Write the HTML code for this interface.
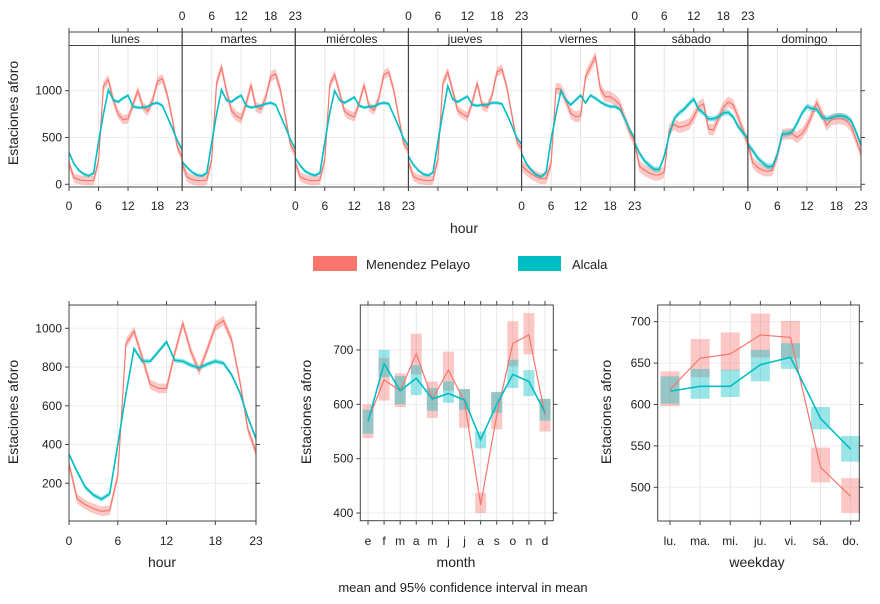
<!DOCTYPE html>
<html><head><meta charset="utf-8"><style>
body{margin:0;background:#fff;}
svg{display:block;font-family:"Liberation Sans",Arial,sans-serif;}
</style></head><body>
<svg id="c" width="880" height="604" viewBox="0 0 880 604"></svg>
<script>
const RED="#F8766D", BLUE="#00BFC4";
const days=["lunes","martes","miércoles","jueves","viernes","sábado","domingo"];
const redLunes=[225,70,50,40,40,40,250,1050,1120,900,750,690,700,850,1000,830,780,900,1100,1130,950,700,400,290];
const blueLunes=[340,220,150,110,90,120,450,750,1010,900,880,920,950,830,820,820,830,860,870,840,720,600,470,370];
const redMartes=[220,80,50,40,40,45,260,1080,1250,1000,790,730,700,860,1060,830,800,930,1150,1180,1000,720,430,330];
const blueMartes=[240,180,130,100,90,120,440,750,1010,900,880,920,950,840,820,830,840,860,870,850,730,610,480,380];
const redMiercoles=[230,80,55,40,40,45,260,1060,1170,980,780,740,720,870,1060,830,790,920,1170,1200,1010,730,440,360];
const blueMiercoles=[280,200,140,110,95,120,450,760,1000,900,870,900,930,840,820,830,830,860,870,860,740,620,490,410];
const redJueves=[240,85,55,45,40,45,270,1080,1200,1000,790,750,720,880,1080,840,820,950,1200,1230,1040,750,460,380];
const blueJueves=[300,210,150,110,95,125,460,760,1050,910,880,910,940,850,840,850,850,870,870,860,750,630,500,430];
const redViernes=[200,150,110,80,60,60,220,1025,1015,900,758,722,730,1150,1256,1363,1025,935,935,900,850,700,560,450];
const blueViernes=[330,220,150,100,80,130,480,750,1000,900,850,900,950,870,950,920,880,850,830,830,800,700,580,490];
const redSabado=[440,190,150,120,100,100,130,580,640,610,620,640,720,830,860,590,580,700,820,880,850,720,580,430];
const blueSabado=[440,330,250,200,160,160,300,520,700,760,800,860,910,800,760,700,700,720,760,770,720,620,550,490];
const redDomingo=[440,230,180,150,140,150,310,530,540,540,500,540,620,740,870,760,630,690,700,700,680,620,480,330];
const blueDomingo=[430,360,280,230,190,190,320,540,540,560,650,760,830,810,800,720,700,710,730,730,720,680,560,420];
const ciRedDay=[50,55,50,50,60,60,60];
const ciBlueDay=[18,18,18,18,20,30,32];
const hourRed=[300,120,90,70,55,60,240,920,985,850,710,690,690,870,1025,880,780,890,1010,1040,940,730,480,360];
const hourBlue=[350,260,180,140,118,145,400,660,895,830,830,880,930,835,830,810,795,815,830,820,760,670,540,430];
const monthLabels=["e","f","m","a","m","j","j","a","s","o","n","d"];
const monthRed=[570,645,625,693,610,663,605,415,580,712,728,580];
const monthRedLo=[538,607,595,655,575,625,557,400,554,670,692,550];
const monthRedHi=[600,685,657,730,642,697,628,437,622,753,768,610];
const monthBlue=[568,675,625,648,610,620,608,535,600,655,642,585];
const monthBlueLo=[546,650,600,617,588,603,590,519,584,630,615,570];
const monthBlueHi=[590,700,652,672,630,642,628,550,623,682,663,610];
const wdLabels=["lu.","ma.","mi.","ju.","vi.","sá.","do."];
const wdRed=[618,656,661,684,681,524,489];
const wdRedLo=[598,633,641,657,656,506,469];
const wdRedHi=[640,679,687,710,701,548,511];
const wdBlue=[616,622,622,648,657,583,546];
const wdBlueLo=[601,607,609,628,643,570,531];
const wdBlueHi=[634,643,642,666,674,597,562];

const redDays=[redLunes,redMartes,redMiercoles,redJueves,redViernes,redSabado,redDomingo];
const blueDays=[blueLunes,blueMartes,blueMiercoles,blueJueves,blueViernes,blueSabado,blueDomingo];
const svg=document.getElementById('c');
const NS="http://www.w3.org/2000/svg";
function mk(tag,attrs,parent,text){const e=document.createElementNS(NS,tag);for(const k in attrs)e.setAttribute(k,attrs[k]);if(text!==undefined)e.textContent=text;(parent||svg).appendChild(e);return e;}
function line(x1,y1,x2,y2,col,w,p){return mk('line',{x1,y1,x2,y2,stroke:col,'stroke-width':w},p);}
function txt(x,y,s,size,anchor,p,rot){const a={x,y,'font-size':size,'text-anchor':anchor||'middle',fill:'#222'};if(rot)a.transform=`rotate(-90 ${x} ${y})`;return mk('text',a,p,s);}
function band(xs,lo,hi,col,op,p){let d='';xs.forEach((x,i)=>d+=(i?'L':'M')+x+','+hi[i]);for(let i=xs.length-1;i>=0;i--)d+='L'+xs[i]+','+lo[i];d+='Z';return mk('path',{d,fill:col,'fill-opacity':op,stroke:'none'},p);}
function poly(xs,ys,col,w,p){return mk('polyline',{points:xs.map((x,i)=>x+','+ys[i]).join(' '),fill:'none',stroke:col,'stroke-width':w},p);}

const TX0=69,TX1=861,TY0=45.5,TY1=187,SY0=32;
const pw=(TX1-TX0)/7;
const ty=v=>184.3-v*0.0936;
const hours=[...Array(24).keys()];
const topG=mk('g',{});


days.forEach((d,di)=>{
  const x0=TX0+di*pw, x1=x0+pw;
  const tx=h=>x0+h*(x1-x0)/23;
  const g=mk('g',{},topG);
  
  
  [6,12,18].forEach(h=>line(tx(h),TY0,tx(h),TY1,'#e6e6e6',1,g));
  [0,500,1000].forEach(v=>line(x0,ty(v),x1,ty(v),'#eeeeee',1,g));
  const xs=hours.map(tx);
  const r=redDays[di], b=blueDays[di];
  band(xs,r.map(v=>ty(v-ciRedDay[di])),r.map(v=>ty(v+ciRedDay[di])),RED,0.4,g);
  band(xs,b.map(v=>ty(v-ciBlueDay[di])),b.map(v=>ty(v+ciBlueDay[di])),BLUE,0.4,g);
  poly(xs,r.map(ty),RED,1.2,g);
  poly(xs,b.map(ty),BLUE,1.6,g);
  mk('rect',{x:x0,y:SY0,width:pw,height:TY0-SY0,fill:'#fff',stroke:'#444','stroke-width':1},g);
  const st=txt((x0+x1)/2,43,d,12,'middle',g);
  
  
  [0,6,12,18,23].forEach(h=>{line(tx(h),TY1,tx(h),TY1+4,'#444',1,g);line(tx(h),SY0,tx(h),SY0-4,'#444',1,g);});
  if(di%2==1){[0,6,12,18,23].forEach(h=>txt(tx(h),20,String(h),12,'middle',g));}
  else{[0,6,12,18,23].forEach(h=>txt(tx(h),210,String(h),12,'middle',g));}
});
mk('rect',{x:TX0,y:SY0,width:TX1-TX0,height:TY1-SY0,fill:'none',stroke:'#444','stroke-width':1},topG);
for(let i=1;i<7;i++)line(TX0+i*pw,SY0,TX0+i*pw,TY1,'#444',1.2,topG);
[0,500,1000].forEach(v=>{line(TX0-4,ty(v),TX0,ty(v),'#444',1,topG);line(TX1,ty(v),TX1+4,ty(v),'#444',1,topG);txt(TX0-7,ty(v)+4,String(v),12,'end',topG);});
const tyt=txt(18,113,'Estaciones aforo',14,'middle',topG,true);

const txt1=txt(464,233,'hour',14,'middle',topG);


const lg=mk('g',{});

const le1=mk('g',{},lg);
mk('rect',{x:313,y:256,width:44,height:15,fill:RED},le1);txt(366,269,'Menendez Pelayo',13,'start',le1);
const le2=mk('g',{},lg);
mk('rect',{x:518,y:256,width:43,height:15,fill:BLUE},le2);txt(572,269,'Alcala',13,'start',le2);

function frameRect(g,x0,x1,y0,y1){mk('rect',{x:x0,y:y0,width:x1-x0,height:y1-y0,fill:'none',stroke:'#444','stroke-width':1},g);}

{
const g=mk('g',{});
const x0=69,x1=256,y0=305,y1=521;
const x=h=>x0+h*(x1-x0)/23, y=v=>328.3+(1000-v)*0.19375;
[6,12,18].forEach(h=>line(x(h),y0,x(h),y1,'#e6e6e6',1,g));
[200,400,600,800,1000].forEach(v=>line(x0,y(v),x1,y(v),'#eeeeee',1,g));
const xs=hours.map(x);
band(xs,hourRed.map(v=>y(v-25)),hourRed.map(v=>y(v+25)),RED,0.4,g);
band(xs,hourBlue.map(v=>y(v-12)),hourBlue.map(v=>y(v+12)),BLUE,0.4,g);
poly(xs,hourRed.map(y),RED,1.2,g);poly(xs,hourBlue.map(y),BLUE,1.6,g);
frameRect(g,x0,x1,y0,y1);
[0,6,12,18,23].forEach(h=>{line(x(h),y1,x(h),y1+4,'#444',1,g);line(x(h),y0,x(h),y0-4,'#444',1,g);txt(x(h),545,String(h),12,'middle',g);});
[200,400,600,800,1000].forEach(v=>{line(x0-4,y(v),x0,y(v),'#444',1,g);line(x1,y(v),x1+4,y(v),'#444',1,g);txt(x0-7,y(v)+4,String(v),12,'end',g);});
txt(18,412,'Estaciones aforo',14,'middle',g,true);
txt(162,567,'hour',14,'middle',g);
}
function catPanel(name,x0,x1,y0,y1,xc,y,labels,rm,rl,rh,bm,bl,bh,bw,ticks,ytx,xt,title){
const g=mk('g',{});
labels.forEach((l,i)=>line(xc(i),y0,xc(i),y1,'#e6e6e6',1,g));
ticks.forEach(v=>line(x0,y(v),x1,y(v),'#eeeeee',1,g));
labels.forEach((l,i)=>{
  const r=mk('rect',{x:xc(i)-bw/2,y:y(rh[i]),width:bw,height:y(rl[i])-y(rh[i]),fill:RED,'fill-opacity':0.4},g);
  
  
  const b=mk('rect',{x:xc(i)-bw/2,y:y(bh[i]),width:bw,height:y(bl[i])-y(bh[i]),fill:BLUE,'fill-opacity':0.4},g);
  
  
});
const xs=labels.map((l,i)=>xc(i));
poly(xs,rm.map(y),RED,1.2,g);poly(xs,bm.map(y),BLUE,1.6,g);
frameRect(g,x0,x1,y0,y1);
labels.forEach((l,i)=>{line(xc(i),y1,xc(i),y1+4,'#444',1,g);line(xc(i),y0,xc(i),y0-4,'#444',1,g);txt(xc(i),545,l,12,'middle',g);});
ticks.forEach(v=>{line(x0-4,y(v),x0,y(v),'#444',1,g);line(x1,y(v),x1+4,y(v),'#444',1,g);txt(x0-7,y(v)+4,String(v),12,'end',g);});
txt(ytx,412,'Estaciones aforo',14,'middle',g,true);
txt(xt,567,title,14,'middle',g);
}
catPanel('month-panel',360.3,553.3,305,520.7,i=>368+i*(545-368)/11,v=>350+(700-v)*(163/300),monthLabels,monthRed,monthRedLo,monthRedHi,monthBlue,monthBlueLo,monthBlueHi,11,[400,500,600,700],311,456,'month');
catPanel('weekday-panel',657.7,859.3,305,521,i=>670+i*(850.7-670)/6,v=>321.7+(700-v)*(165.6/200),wdLabels,wdRed,wdRedLo,wdRedHi,wdBlue,wdBlueLo,wdBlueHi,19,[500,550,600,650,700],611,757,'weekday');
const ft=txt(463,592,'mean and 95% confidence interval in mean',13,'middle');


</script>
</body></html>
